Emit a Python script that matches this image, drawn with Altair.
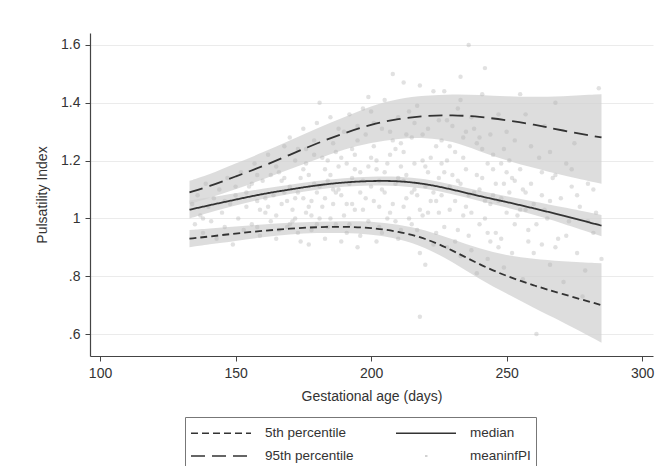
import altair as alt
import pandas as pd

# ---- fitted centile curves (gestational age in days) ----
grid_x = [133, 140, 150, 160, 170, 180, 190, 200, 210, 220, 230, 240, 250, 260, 270, 285]

p5 =    [0.930, 0.937, 0.948, 0.957, 0.965, 0.970, 0.972, 0.968, 0.955, 0.932, 0.890, 0.840, 0.800, 0.768, 0.740, 0.700]
p5_lo = [0.900, 0.910, 0.922, 0.935, 0.945, 0.950, 0.950, 0.945, 0.930, 0.900, 0.850, 0.790, 0.740, 0.690, 0.645, 0.570]
p5_hi = [0.960, 0.965, 0.972, 0.979, 0.985, 0.989, 0.991, 0.990, 0.980, 0.960, 0.928, 0.895, 0.872, 0.860, 0.852, 0.845]

p50 =    [1.030, 1.045, 1.065, 1.085, 1.100, 1.115, 1.125, 1.130, 1.130, 1.120, 1.100, 1.077, 1.057, 1.035, 1.012, 0.975]
p50_lo = [1.000, 1.020, 1.045, 1.068, 1.085, 1.100, 1.110, 1.115, 1.114, 1.104, 1.084, 1.060, 1.038, 1.013, 0.985, 0.938]
p50_hi = [1.062, 1.072, 1.087, 1.103, 1.116, 1.130, 1.140, 1.145, 1.146, 1.137, 1.117, 1.095, 1.077, 1.058, 1.040, 1.012]

p95 =    [1.090, 1.110, 1.145, 1.180, 1.220, 1.260, 1.295, 1.325, 1.345, 1.355, 1.358, 1.352, 1.340, 1.325, 1.305, 1.280]
p95_lo = [1.050, 1.070, 1.100, 1.135, 1.170, 1.205, 1.240, 1.262, 1.277, 1.280, 1.268, 1.232, 1.200, 1.175, 1.150, 1.120]
p95_hi = [1.130, 1.150, 1.190, 1.228, 1.270, 1.312, 1.350, 1.390, 1.415, 1.425, 1.430, 1.428, 1.422, 1.420, 1.422, 1.430]

# ---- observed mean PI (meaninfPI) ----
pt_x = [134, 135, 136, 137, 138, 139, 140, 141, 142, 143, 144, 145, 146, 147, 148, 149, 150, 151, 152, 153,
        154, 155, 156, 157, 158, 159, 160, 161, 162, 163, 164, 165, 166, 167, 168, 169, 170, 171, 172, 173, 174, 175,
        156, 159, 163, 166, 170, 172, 174, 168, 161, 165, 173, 158, 175,
        176, 177, 178, 179, 180, 181, 182, 183, 184, 185, 186, 187, 188, 189, 190, 191, 192, 193, 194, 195, 196, 197, 198, 199, 200,
        176, 178, 180, 182, 184, 186, 188, 190, 192, 194, 196, 198, 200, 177, 179, 181, 183, 185, 187, 189, 191, 193, 195, 197, 199,
        201, 202, 203, 204, 205, 206, 207, 208, 209, 210, 211, 212, 213, 214, 215, 216, 217, 218, 219, 220, 221, 222, 223, 224, 225,
        201, 203, 205, 207, 209, 211, 213, 215, 217, 219, 221, 223, 225, 202, 204, 206, 208, 210, 212, 214, 216, 218, 220, 222, 224, 218, 212,
        226, 227, 228, 229, 230, 231, 232, 233, 234, 235, 236, 237, 238, 239, 240, 241, 242, 243, 244, 245, 246, 247, 248, 249, 250,
        226, 228, 230, 232, 234, 236, 238, 240, 242, 244, 246, 248, 250, 227, 229, 231, 233, 235, 237, 239, 241, 243, 245, 247, 249, 233,
        251, 252, 253, 254, 255, 256, 257, 258, 259, 260, 261, 262, 263, 264, 265, 266, 267, 268, 269, 270, 271, 272, 273, 275, 276,
        277, 279, 280, 282, 284, 285, 253, 257, 263, 268, 274, 278, 283, 255, 266]
pt_y = [1.05, 0.98, 1.08, 1.01, 0.95, 1.12, 1.04, 0.99, 1.07, 0.93, 1.10, 1.02, 0.97, 1.14, 1.05, 0.91, 1.08, 1.00, 1.16, 0.96,
        1.04, 1.11, 0.98, 1.19, 1.06, 0.94, 1.13, 1.02, 1.22, 0.99, 1.08, 0.93, 1.16, 1.05, 1.25, 0.97, 1.11, 1.03, 1.20, 0.95, 1.14, 1.07,
        1.12, 1.03, 1.15, 0.96, 1.28, 1.00, 0.92, 1.09, 1.07, 1.18, 1.24, 0.97, 1.31,
        1.02, 1.15, 0.96, 1.27, 1.09, 1.00, 1.21, 0.93, 1.13, 1.35, 1.05, 0.98, 1.18, 1.08, 1.30, 0.95, 1.12, 1.24, 1.03, 0.90, 1.16, 1.38, 1.07, 0.99, 1.21,
        1.19, 1.06, 1.33, 1.04, 0.97, 1.26, 1.10, 1.01, 1.36, 1.17, 0.94, 1.29, 1.11, 0.91, 1.12, 1.40, 1.07, 1.15, 1.23, 0.92, 1.19, 1.05, 1.27, 1.13, 1.42,
        1.06, 1.17, 0.97, 1.31, 1.09, 1.00, 1.22, 1.50, 1.12, 0.93, 1.26, 1.04, 1.15, 1.37, 0.98, 1.19, 1.08, 0.88, 1.29, 1.11, 1.02, 1.21, 1.44, 0.95, 1.14,
        1.33, 1.13, 1.41, 1.02, 1.24, 0.96, 1.07, 1.28, 1.39, 1.01, 1.16, 0.91, 1.34, 0.92, 1.10, 1.19, 1.05, 1.35, 1.23, 1.00, 1.10, 1.46, 0.84, 1.06, 1.25, 0.66, 1.47,
        1.08, 0.97, 1.20, 1.03, 1.32, 0.92, 1.13, 1.41, 1.01, 1.17, 1.60, 0.89, 1.09, 1.26, 0.98, 1.14, 1.52, 0.86, 1.05, 1.22, 0.95, 1.36, 1.07, 0.83, 1.16,
        1.27, 0.90, 1.15, 1.38, 1.21, 0.94, 1.31, 1.10, 1.00, 1.29, 1.12, 0.93, 1.02, 1.44, 1.11, 1.23, 0.87, 1.04, 1.35, 0.81, 1.43, 1.19, 1.08, 0.90, 1.24, 1.49,
        1.09, 0.88, 1.27, 1.01, 1.17, 0.79, 1.36, 0.96, 1.12, 1.05, 0.60, 1.21, 0.91, 1.32, 1.00, 0.84, 1.14, 1.40, 0.93, 1.07, 0.78, 1.19, 0.99, 1.26, 0.88,
        1.04, 0.82, 1.12, 0.95, 1.45, 0.86, 0.98, 1.03, 1.08, 0.90, 1.11, 0.73, 1.02, 1.43, 1.23]

# denser central cloud
pt2_x = [165, 167, 169, 171, 173, 175, 177, 179, 181, 183, 185, 187, 189, 191, 193, 195, 197, 199, 201, 203,
         205, 207, 209, 211, 213, 215, 217, 219, 221, 223, 225, 227, 229, 231, 233, 235, 237, 239, 241, 243,
         245, 247, 249, 251, 253, 255, 257, 259, 261, 263]
pt2_y = [1.01, 1.13, 1.06, 0.99, 1.09, 1.17, 1.04, 1.22, 1.11, 1.17, 1.00, 1.09, 1.21, 1.05, 1.14, 1.32, 1.03, 1.18, 1.25, 1.04,
         1.16, 1.30, 0.99, 1.18, 1.29, 1.09, 0.96, 1.20, 1.31, 1.09, 1.02, 1.16, 1.25, 1.06, 1.12, 1.30, 1.02, 1.15, 1.24, 0.95,
         1.17, 1.06, 1.12, 1.20, 1.13, 1.03, 1.09, 1.25, 0.98, 1.16]
pt3_x = [168, 172, 176, 180, 184, 188, 192, 196, 200, 204, 208, 212, 216, 220, 224, 228, 232, 236, 240, 244,
         248, 252, 256, 260, 264, 268, 272, 276, 280, 170, 178, 186, 194, 202, 210, 218, 226, 234, 242, 250,
         258, 266, 274, 282, 146, 150, 154, 158, 162, 138]
pt3_y = [1.14, 1.07, 1.24, 0.98, 1.20, 1.31, 0.98, 1.09, 1.37, 0.95, 1.27, 1.13, 1.33, 1.18, 1.06, 1.34, 0.96, 1.08, 1.28, 0.92,
         1.19, 1.14, 1.10, 0.88, 1.03, 1.15, 0.94, 1.08, 0.99, 0.98, 1.01, 1.10, 1.22, 1.20, 1.14, 1.03, 1.19, 1.28, 1.06, 1.30,
         0.92, 1.06, 1.17, 1.10, 1.06, 1.11, 1.09, 1.15, 1.04, 1.00]

# legend order (Vega fills the 2-column grid column by column)
series_names = ["5th percentile", "95th percentile", "median", "meaninfPI"]
x_ticks = [100, 150, 200, 250, 300]
y_ticks = [0.6, 0.8, 1.0, 1.2, 1.4, 1.6]

n = len(grid_x)
lines_df = pd.DataFrame({
    "x": grid_x * 3,
    "value": p5 + p50 + p95,
    "series": ["5th percentile"] * n + ["median"] * n + ["95th percentile"] * n,
})
bands_df = pd.DataFrame({
    "x": grid_x * 3,
    "lo": p5_lo + p50_lo + p95_lo,
    "hi": p5_hi + p50_hi + p95_hi,
    "band": ["p5"] * n + ["p50"] * n + ["p95"] * n,
})
pts_df = pd.DataFrame({"x": pt_x + pt2_x + pt3_x, "y": pt_y + pt2_y + pt3_y})

FONT = "Liberation Sans"
DARK = "#333333"
FS = 14

xs = alt.Scale(domain=[96.3, 304], nice=False, zero=False)
ys = alt.Scale(domain=[0.524, 1.6415], nice=False, zero=False)

x_axis = alt.Axis(values=x_ticks, title="Gestational age (days)", grid=False, tickSize=5,
                  labelPadding=5, titlePadding=9, labelFlush=False)
y_axis = alt.Axis(values=y_ticks, title="Pulsatility Index", grid=True, gridColor="#ebebeb",
                  tickSize=5, labelPadding=5, titlePadding=11,
                  labelExpr="datum.value < 1 ? '.' + format(datum.value * 10, '.0f') : (datum.value == 1 ? '1' : format(datum.value, '.1f'))")

bands = alt.Chart(bands_df).mark_area(color="#d2d2d2", opacity=0.75, interpolate="basis").encode(
    x=alt.X("x:Q", scale=xs, axis=x_axis),
    y=alt.Y("lo:Q", scale=ys, axis=y_axis),
    y2="hi:Q",
    detail="band:N",
)

points = alt.Chart(pts_df).mark_circle(size=20, color="#b0b0b0", opacity=0.38).encode(
    x=alt.X("x:Q", scale=xs),
    y=alt.Y("y:Q", scale=ys),
)

legend = alt.Legend(
    title=None, orient="none", legendX=95, legendY=384, columns=2,
    symbolType="M-3,0H3", symbolSize=400, symbolOffset=20, symbolStrokeWidth=1.7,
    labelOffset=33, columnPadding=38, rowPadding=5, padding=5,
    strokeColor="#777777", labelFont=FONT, labelFontSize=13.5, labelColor=DARK,
)

lines = alt.Chart(lines_df).mark_line(strokeWidth=1.8, interpolate="basis").encode(
    x=alt.X("x:Q", scale=xs),
    y=alt.Y("value:Q", scale=ys),
    color=alt.Color("series:N", scale=alt.Scale(domain=series_names,
                    range=[DARK, DARK, DARK, "#c4c4c4"]), legend=legend),
    strokeDash=alt.StrokeDash("series:N", scale=alt.Scale(domain=series_names,
                    range=[[7, 4], [14, 7], [1, 0], [0, 29, 2.5, 100]]), legend=legend),
)

chart = alt.layer(bands, points, lines).properties(
    width=563, height=323,
    autosize=alt.AutoSizeParams(type="none"),
    padding={"left": 82, "top": 25, "right": 7, "bottom": 110},
    background="white",
).configure_view(stroke=None).configure_axis(
    labelFont=FONT, titleFont=FONT, labelFontSize=FS, titleFontSize=FS,
    titleFontWeight="normal", labelColor=DARK, titleColor=DARK,
    domainColor="#444444", tickColor="#444444", domainWidth=1.2,
)

chart.save("out.html", embed_options={"renderer": "svg", "actions": False})
